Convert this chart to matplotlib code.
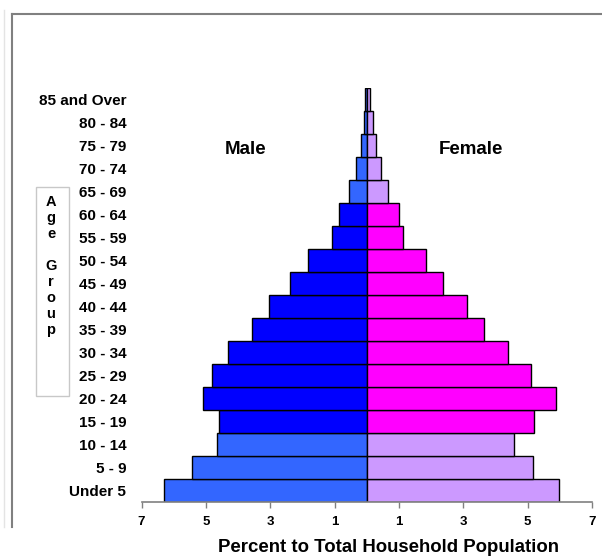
import matplotlib
matplotlib.use("Agg")
import matplotlib.pyplot as plt
from matplotlib.lines import Line2D
from matplotlib.patches import Rectangle

plt.rcParams['font.family'] = ['Liberation Sans', 'DejaVu Sans']
plt.rcParams['font.weight'] = 'bold'

age_groups = ["Under 5", "5 - 9", "10 - 14", "15 - 19", "20 - 24", "25 - 29",
              "30 - 34", "35 - 39", "40 - 44", "45 - 49", "50 - 54", "55 - 59",
              "60 - 64", "65 - 69", "70 - 74", "75 - 79", "80 - 84", "85 and Over"]
male = [6.30, 5.43, 4.66, 4.60, 5.09, 4.81, 4.32, 3.57, 3.04, 2.39, 1.83, 1.08,
        0.86, 0.54, 0.33, 0.19, 0.10, 0.06]
female = [5.97, 5.16, 4.57, 5.19, 5.88, 5.11, 4.39, 3.64, 3.10, 2.38, 1.85, 1.14,
          0.99, 0.66, 0.43, 0.28, 0.18, 0.11]
# working-age rows (15-64) are drawn in the saturated colours
working = [False, False, False] + [True] * 10 + [False] * 5
xticks = [-7, -5, -3, -1, 1, 3, 5, 7]

male_colors = ["#0000FF" if w else "#3366FF" for w in working]
female_colors = ["#FF00FF" if w else "#CC99FF" for w in working]

fig = plt.figure(figsize=(6.02, 5.58), dpi=100)
ax = fig.add_axes([141.5 / 602, 1 - 502 / 558, 450.5 / 602, 414 / 558])

y = list(range(len(age_groups)))
ax.barh(y, [-v for v in male], height=1.0, color=male_colors,
        edgecolor="black", linewidth=1.0)
ax.barh(y, female, height=1.0, color=female_colors,
        edgecolor="black", linewidth=1.0)

ax.set_xlim(-7, 7)
ax.set_ylim(-0.5, len(age_groups) - 0.5)
ax.set_yticks(y)
ax.set_yticklabels(age_groups, fontsize=11, fontweight="bold")
ax.set_xticks(xticks)
ax.set_xticklabels([str(abs(t)) for t in xticks], fontsize=9.5, fontweight="bold")
ax.tick_params(axis="y", length=0, pad=11)
ax.tick_params(axis="x", length=4, width=1, color="#808080", pad=6)
for side in ["top", "right", "left"]:
    ax.spines[side].set_visible(False)
ax.spines["bottom"].set_color("#808080")
ax.spines["bottom"].set_linewidth(1.2)

fig.text(246 / 602, 1 - 150 / 558, "Male", fontsize=13.5, fontweight="bold",
         ha="center", va="center")
fig.text(471 / 602, 1 - 150 / 558, "Female", fontsize=13.5, fontweight="bold",
         ha="center", va="center")
fig.text(389 / 602, 1 - 548 / 558, "Percent to Total Household Population",
         fontsize=13.4, fontweight="bold", ha="center", va="center")

# "Age Group" box with stacked letters
fig.patches.append(Rectangle((36 / 602, 1 - 396 / 558), 33 / 602, 209 / 558,
                             transform=fig.transFigure, facecolor="white",
                             edgecolor="#c8c8c8", linewidth=1.0))
fig.text(51 / 602, 1 - 195 / 558, "A\ng\ne\n\nG\nr\no\nu\np", fontsize=10.5,
         fontweight="bold", ha="center", va="top", linespacing=1.18,
         multialignment="center")

# chart-area frame (cropped screenshot)
fig.lines.append(Line2D([12 / 602, 1], [1 - 14 / 558, 1 - 14 / 558],
                        transform=fig.transFigure, color="#808080", linewidth=1.5))
fig.lines.append(Line2D([12 / 602, 12 / 602], [1 - 14 / 558, 1 - 527 / 558],
                        transform=fig.transFigure, color="#808080", linewidth=1.5))
fig.lines.append(Line2D([3.5 / 602, 3.5 / 602], [1 - 10 / 558, 1 - 527 / 558],
                        transform=fig.transFigure, color="#e4e4e4", linewidth=1.0))

fig.savefig("out.png", dpi=100)
